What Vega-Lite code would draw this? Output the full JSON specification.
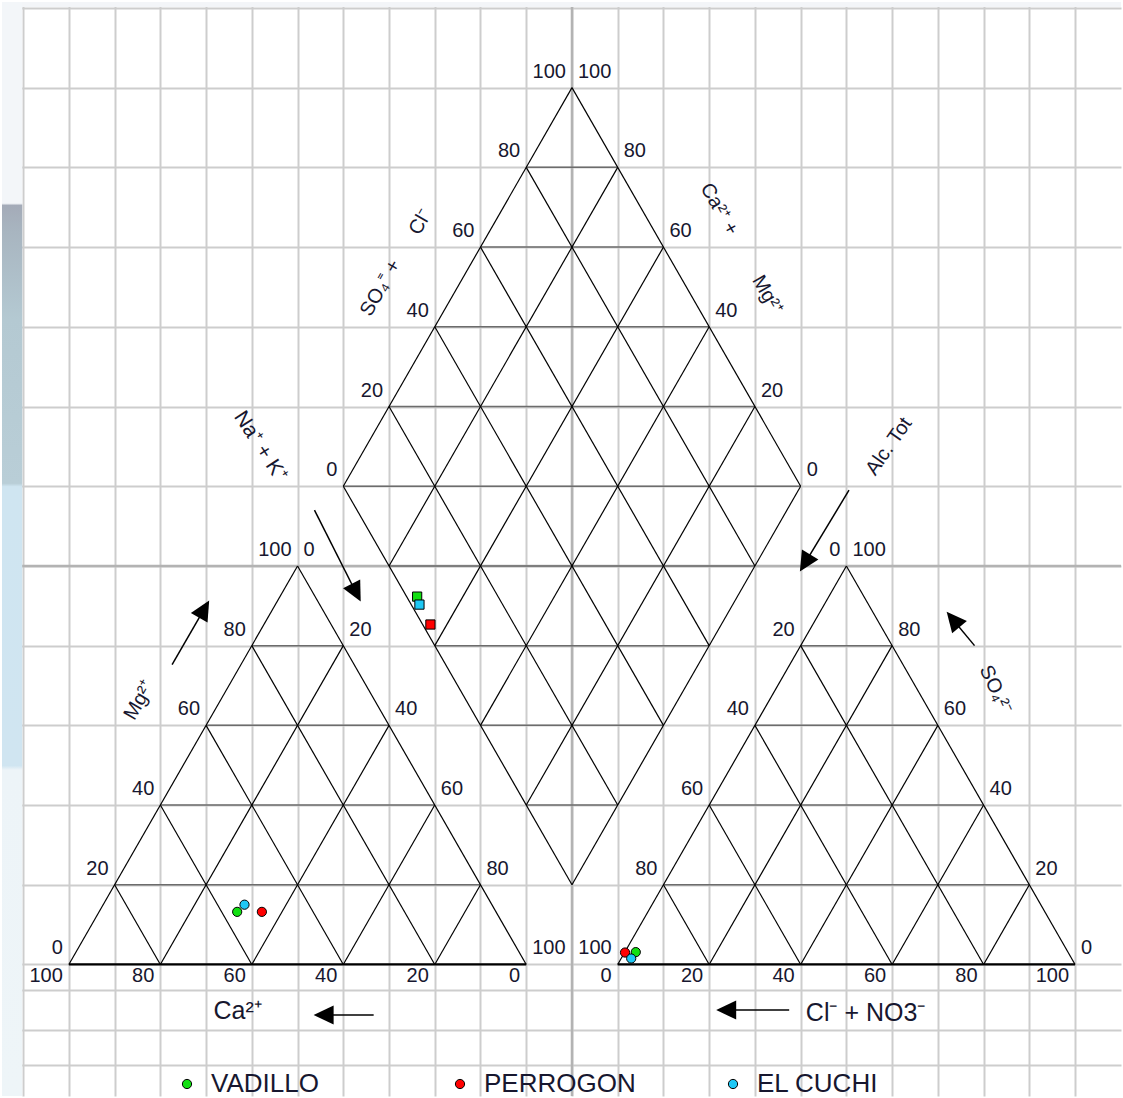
{
  "$schema": "https://vega.github.io/schema/vega-lite/v6.json",
  "width": 1123,
  "height": 1098,
  "autosize": {"type": "fit", "contains": "padding"},
  "padding": 0,
  "background": "#ffffff",
  "config": {
    "view": {"stroke": null},
    "text": {"font": "Liberation Sans", "color": "#17172f"}
  },
  "resolve": {"axis": {"x": "independent", "y": "independent"}},
  "datasets": {
    "samples": [
      {"sample": "VADILLO", "diagram": "cations", "Ca": 56.6, "Mg": 13.2, "NaK": 30.2},
      {"sample": "PERROGON", "diagram": "cations", "Ca": 51.2, "Mg": 13.2, "NaK": 35.6},
      {"sample": "EL CUCHI", "diagram": "cations", "Ca": 54.1, "Mg": 15.0, "NaK": 30.9},
      {"sample": "VADILLO", "diagram": "anions", "HCO3": 94.5, "SO4": 3.1, "Cl": 2.4},
      {"sample": "PERROGON", "diagram": "anions", "HCO3": 96.9, "SO4": 3.0, "Cl": 0.1},
      {"sample": "EL CUCHI", "diagram": "anions", "HCO3": 96.3, "SO4": 1.5, "Cl": 2.2},
      {"sample": "VADILLO", "diagram": "diamond", "NaK": 30.0, "SO4Cl": 2.3},
      {"sample": "PERROGON", "diagram": "diamond", "NaK": 36.4, "SO4Cl": 1.7},
      {"sample": "EL CUCHI", "diagram": "diamond", "NaK": 31.5, "SO4Cl": 1.8}
    ],
    "lattice": [
      {"net": "cat", "fam": "h", "v": 0}, {"net": "cat", "fam": "h", "v": 20}, {"net": "cat", "fam": "h", "v": 40}, {"net": "cat", "fam": "h", "v": 60}, {"net": "cat", "fam": "h", "v": 80},
      {"net": "cat", "fam": "l", "v": 0}, {"net": "cat", "fam": "l", "v": 20}, {"net": "cat", "fam": "l", "v": 40}, {"net": "cat", "fam": "l", "v": 60}, {"net": "cat", "fam": "l", "v": 80},
      {"net": "cat", "fam": "r", "v": 0}, {"net": "cat", "fam": "r", "v": 20}, {"net": "cat", "fam": "r", "v": 40}, {"net": "cat", "fam": "r", "v": 60}, {"net": "cat", "fam": "r", "v": 80},
      {"net": "an", "fam": "h", "v": 0}, {"net": "an", "fam": "h", "v": 20}, {"net": "an", "fam": "h", "v": 40}, {"net": "an", "fam": "h", "v": 60}, {"net": "an", "fam": "h", "v": 80},
      {"net": "an", "fam": "l", "v": 0}, {"net": "an", "fam": "l", "v": 20}, {"net": "an", "fam": "l", "v": 40}, {"net": "an", "fam": "l", "v": 60}, {"net": "an", "fam": "l", "v": 80},
      {"net": "an", "fam": "r", "v": 0}, {"net": "an", "fam": "r", "v": 20}, {"net": "an", "fam": "r", "v": 40}, {"net": "an", "fam": "r", "v": 60}, {"net": "an", "fam": "r", "v": 80},
      {"net": "dia", "fam": "n", "v": 0}, {"net": "dia", "fam": "n", "v": 20}, {"net": "dia", "fam": "n", "v": 40}, {"net": "dia", "fam": "n", "v": 60}, {"net": "dia", "fam": "n", "v": 80}, {"net": "dia", "fam": "n", "v": 100},
      {"net": "dia", "fam": "s", "v": 0}, {"net": "dia", "fam": "s", "v": 20}, {"net": "dia", "fam": "s", "v": 40}, {"net": "dia", "fam": "s", "v": 60}, {"net": "dia", "fam": "s", "v": 80}, {"net": "dia", "fam": "s", "v": 100},
      {"net": "dia", "fam": "d", "v": -80}, {"net": "dia", "fam": "d", "v": -60}, {"net": "dia", "fam": "d", "v": -40}, {"net": "dia", "fam": "d", "v": -20}, {"net": "dia", "fam": "d", "v": 0},
      {"net": "dia", "fam": "d", "v": 20}, {"net": "dia", "fam": "d", "v": 40}, {"net": "dia", "fam": "d", "v": 60}, {"net": "dia", "fam": "d", "v": 80}
    ],
    "ticks": [
      {"edge": "cMg", "v": 0}, {"edge": "cMg", "v": 20}, {"edge": "cMg", "v": 40}, {"edge": "cMg", "v": 60}, {"edge": "cMg", "v": 80}, {"edge": "cMg", "v": 100},
      {"edge": "cNaK", "v": 0}, {"edge": "cNaK", "v": 20}, {"edge": "cNaK", "v": 40}, {"edge": "cNaK", "v": 60}, {"edge": "cNaK", "v": 80}, {"edge": "cNaK", "v": 100},
      {"edge": "cCa", "v": 0}, {"edge": "cCa", "v": 20}, {"edge": "cCa", "v": 40}, {"edge": "cCa", "v": 60}, {"edge": "cCa", "v": 80}, {"edge": "cCa", "v": 100},
      {"edge": "aHCO3", "v": 0}, {"edge": "aHCO3", "v": 20}, {"edge": "aHCO3", "v": 40}, {"edge": "aHCO3", "v": 60}, {"edge": "aHCO3", "v": 80}, {"edge": "aHCO3", "v": 100},
      {"edge": "aSO4", "v": 0}, {"edge": "aSO4", "v": 20}, {"edge": "aSO4", "v": 40}, {"edge": "aSO4", "v": 60}, {"edge": "aSO4", "v": 80}, {"edge": "aSO4", "v": 100},
      {"edge": "aCl", "v": 0}, {"edge": "aCl", "v": 20}, {"edge": "aCl", "v": 40}, {"edge": "aCl", "v": 60}, {"edge": "aCl", "v": 80}, {"edge": "aCl", "v": 100},
      {"edge": "dSO4Cl", "v": 0}, {"edge": "dSO4Cl", "v": 20}, {"edge": "dSO4Cl", "v": 40}, {"edge": "dSO4Cl", "v": 60}, {"edge": "dSO4Cl", "v": 80}, {"edge": "dSO4Cl", "v": 100},
      {"edge": "dCaMg", "v": 0}, {"edge": "dCaMg", "v": 20}, {"edge": "dCaMg", "v": 40}, {"edge": "dCaMg", "v": 60}, {"edge": "dCaMg", "v": 80}, {"edge": "dCaMg", "v": 100}
    ]
  },
  "layer": [
    {
      "data": {"values": [{}]},
      "mark": {"type": "rule", "color": "#b3b3b3", "strokeWidth": 2.5},
      "encoding": {
        "x": {"datum": 110, "type": "quantitative", "scale": {"domain": [-14.62, 230.04], "nice": false, "zero": false},
          "axis": {"values": [-10, 0, 10, 20, 30, 40, 50, 60, 70, 80, 90, 100, 110, 120, 130, 140, 150, 160, 170, 180, 190, 200, 210, 220],
            "grid": true, "gridColor": "#cdcdcd", "gridWidth": 2, "labels": false, "ticks": false, "domain": false, "title": null}}
      }
    },
    {
      "data": {"values": [{}]},
      "mark": {"type": "rule", "color": "#b3b3b3", "strokeWidth": 2.5},
      "encoding": {
        "y": {"datum": 86.6025, "type": "quantitative", "scale": {"domain": [-28.58, 209.14], "nice": false, "zero": false},
          "axis": {"values": [-21.8, -14.22, -5.56, 0, 17.3205, 34.641, 51.9615, 69.282, 86.6025, 103.923, 121.2435, 138.564, 155.8845, 173.205, 190.5255, 207.846],
            "grid": true, "gridColor": "#cdcdcd", "gridWidth": 2, "labels": false, "ticks": false, "domain": false, "title": null}}
      }
    },
    {
      "data": {"values": [{}]},
      "mark": {"type": "rect", "fill": "#f3f5f8"},
      "encoding": {
        "x": {"datum": -14.62, "type": "quantitative", "scale": {"domain": [-14.62, 230.04], "nice": false, "zero": false}, "axis": null},
        "x2": {"datum": 230.04},
        "y": {"datum": 208.07, "type": "quantitative", "scale": {"domain": [-28.58, 209.14], "nice": false, "zero": false}, "axis": null},
        "y2": {"datum": 209.14}
      }
    },
    {
      "data": {"values": [{}]},
      "mark": {"type": "rect", "fill": {"gradient": "linear", "x1": 0, "y1": 0, "x2": 0, "y2": 1, "stops": [
        {"offset": 0, "color": "#f3f6f9"}, {"offset": 0.184, "color": "#f3f6f9"}, {"offset": 0.186, "color": "#a4abb8"},
        {"offset": 0.21, "color": "#a8b5c0"}, {"offset": 0.29, "color": "#b4c9d2"}, {"offset": 0.44, "color": "#b9ced7"},
        {"offset": 0.443, "color": "#cfe5f1"}, {"offset": 0.698, "color": "#d0e5f1"}, {"offset": 0.702, "color": "#edf4f8"},
        {"offset": 1, "color": "#eef5f8"}]}},
      "encoding": {
        "x": {"datum": -14.62, "type": "quantitative", "scale": {"domain": [-14.62, 230.04], "nice": false, "zero": false}, "axis": null},
        "x2": {"datum": -10.2},
        "y": {"datum": -28.58, "type": "quantitative", "scale": {"domain": [-28.58, 209.14], "nice": false, "zero": false}, "axis": null},
        "y2": {"datum": 209.14}
      }
    },
    {
      "data": {"name": "lattice"},
      "transform": [
        {"calculate": "datum.net === 'an' ? 120 : 0", "as": "x0"},
        {"calculate": "datum.fam === 'h' ? datum.x0 + datum.v / 2 : datum.fam === 'l' ? datum.x0 + datum.v : datum.fam === 'r' ? datum.x0 + 100 - datum.v : datum.fam === 'd' ? 110 - (100 - abs(datum.v)) / 2 : 60 + datum.v / 2", "as": "ax"},
        {"calculate": "0.8660254 * (datum.fam === 'h' ? datum.v : (datum.fam === 'l' || datum.fam === 'r') ? 0 : datum.fam === 'n' ? 120 - datum.v : 120 + datum.v)", "as": "ay"},
        {"calculate": "datum.fam === 'h' ? datum.x0 + 100 - datum.v / 2 : datum.fam === 'l' ? datum.x0 + 50 + datum.v / 2 : datum.fam === 'r' ? datum.x0 + (100 - datum.v) / 2 : datum.fam === 'd' ? 110 + (100 - abs(datum.v)) / 2 : 110 + datum.v / 2", "as": "bx"},
        {"calculate": "0.8660254 * (datum.fam === 'h' ? datum.v : (datum.fam === 'l' || datum.fam === 'r') ? 100 - datum.v : datum.fam === 'n' ? 220 - datum.v : datum.fam === 's' ? 20 + datum.v : 120 + datum.v)", "as": "by"}
      ],
      "encoding": {
        "x": {"field": "ax", "type": "quantitative", "scale": {"domain": [-14.62, 230.04], "nice": false, "zero": false}, "axis": null},
        "y": {"field": "ay", "type": "quantitative", "scale": {"domain": [-28.58, 209.14], "nice": false, "zero": false}, "axis": null},
        "x2": {"field": "bx"},
        "y2": {"field": "by"}
      },
      "layer": [
        {"transform": [{"filter": "(datum.fam === 'h' && datum.v > 0) || datum.fam === 'd'"}], "mark": {"type": "rule", "color": "#6c6c6c", "strokeWidth": 1.5}},
        {"transform": [{"filter": "datum.fam !== 'h' && datum.fam !== 'd'"}], "mark": {"type": "rule", "color": "#000000", "strokeWidth": 1.2}},
        {"transform": [{"filter": "datum.fam === 'h' && datum.v === 0"}], "mark": {"type": "rule", "color": "#000000", "strokeWidth": 2.2}}
      ]
    },
    {
      "data": {"name": "ticks"},
      "transform": [
        {"calculate": "datum.edge === 'cMg' ? datum.v / 2 : datum.edge === 'cNaK' ? 50 + datum.v / 2 : datum.edge === 'cCa' ? 100 - datum.v : datum.edge === 'aHCO3' ? 170 - datum.v / 2 : datum.edge === 'aSO4' ? 220 - datum.v / 2 : datum.edge === 'aCl' ? 120 + datum.v : datum.edge === 'dSO4Cl' ? 60 + datum.v / 2 : 160 - datum.v / 2", "as": "lx"},
        {"calculate": "0.8660254 * ((datum.edge === 'cMg' || datum.edge === 'aSO4') ? datum.v : (datum.edge === 'cNaK' || datum.edge === 'aHCO3') ? 100 - datum.v : (datum.edge === 'cCa' || datum.edge === 'aCl') ? 0 : 120 + datum.v)", "as": "ly"}
      ],
      "encoding": {
        "x": {"field": "lx", "type": "quantitative", "scale": {"domain": [-14.62, 230.04], "nice": false, "zero": false}, "axis": null},
        "y": {"field": "ly", "type": "quantitative", "scale": {"domain": [-28.58, 209.14], "nice": false, "zero": false}, "axis": null},
        "text": {"field": "v", "type": "quantitative"}
      },
      "layer": [
        {"transform": [{"filter": "indexof(['cMg', 'aHCO3', 'dSO4Cl'], datum.edge) >= 0"}],
          "mark": {"type": "text", "align": "right", "baseline": "middle", "dx": -6, "dy": -16, "fontSize": 20}},
        {"transform": [{"filter": "indexof(['cNaK', 'aSO4', 'dCaMg'], datum.edge) >= 0"}],
          "mark": {"type": "text", "align": "left", "baseline": "middle", "dx": 6, "dy": -16, "fontSize": 20}},
        {"transform": [{"filter": "indexof(['cCa', 'aCl'], datum.edge) >= 0"}],
          "mark": {"type": "text", "align": "right", "baseline": "middle", "dx": -6, "dy": 12, "fontSize": 20}}
      ]
    },
    {
      "data": {"values": [{}]},
      "mark": {"type": "text", "text": "Ca²⁺", "fontSize": 25, "align": "center", "baseline": "middle"},
      "encoding": {
        "x": {"datum": 36.9, "type": "quantitative", "scale": {"domain": [-14.62, 230.04], "nice": false, "zero": false}, "axis": null},
        "y": {"datum": -10.18, "type": "quantitative", "scale": {"domain": [-28.58, 209.14], "nice": false, "zero": false}, "axis": null}
      }
    },
    {
      "data": {"values": [{}]},
      "mark": {"type": "text", "text": "Cl⁻ + NO3⁻", "fontSize": 25, "align": "center", "baseline": "middle"},
      "encoding": {
        "x": {"datum": 174.2, "type": "quantitative", "scale": {"domain": [-14.62, 230.04], "nice": false, "zero": false}, "axis": null},
        "y": {"datum": -10.6, "type": "quantitative", "scale": {"domain": [-28.58, 209.14], "nice": false, "zero": false}, "axis": null}
      }
    },
    {
      "data": {"values": [{}]},
      "mark": {"type": "text", "text": "SO₄⁼ +", "fontSize": 20, "angle": -60, "align": "center", "baseline": "middle"},
      "encoding": {
        "x": {"datum": 68.17, "type": "quantitative", "scale": {"domain": [-14.62, 230.04], "nice": false, "zero": false}, "axis": null},
        "y": {"datum": 147.0, "type": "quantitative", "scale": {"domain": [-28.58, 209.14], "nice": false, "zero": false}, "axis": null}
      }
    },
    {
      "data": {"values": [{}]},
      "mark": {"type": "text", "text": "Cl⁻", "fontSize": 20, "angle": -60, "align": "center", "baseline": "middle"},
      "encoding": {
        "x": {"datum": 76.88, "type": "quantitative", "scale": {"domain": [-14.62, 230.04], "nice": false, "zero": false}, "axis": null},
        "y": {"datum": 161.3, "type": "quantitative", "scale": {"domain": [-28.58, 209.14], "nice": false, "zero": false}, "axis": null}
      }
    },
    {
      "data": {"values": [{}]},
      "mark": {"type": "text", "text": "Ca²⁺ +", "fontSize": 20, "angle": 60, "align": "center", "baseline": "middle"},
      "encoding": {
        "x": {"datum": 142.2, "type": "quantitative", "scale": {"domain": [-14.62, 230.04], "nice": false, "zero": false}, "axis": null},
        "y": {"datum": 164.1, "type": "quantitative", "scale": {"domain": [-28.58, 209.14], "nice": false, "zero": false}, "axis": null}
      }
    },
    {
      "data": {"values": [{}]},
      "mark": {"type": "text", "text": "Mg²⁺", "fontSize": 20, "angle": 60, "align": "center", "baseline": "middle"},
      "encoding": {
        "x": {"datum": 152.7, "type": "quantitative", "scale": {"domain": [-14.62, 230.04], "nice": false, "zero": false}, "axis": null},
        "y": {"datum": 145.5, "type": "quantitative", "scale": {"domain": [-28.58, 209.14], "nice": false, "zero": false}, "axis": null}
      }
    },
    {
      "data": {"values": [{}]},
      "mark": {"type": "text", "text": "Na⁺ + K⁺", "fontSize": 21, "angle": 57, "align": "center", "baseline": "middle"},
      "encoding": {
        "x": {"datum": 41.81, "type": "quantitative", "scale": {"domain": [-14.62, 230.04], "nice": false, "zero": false}, "axis": null},
        "y": {"datum": 112.58, "type": "quantitative", "scale": {"domain": [-28.58, 209.14], "nice": false, "zero": false}, "axis": null}
      }
    },
    {
      "data": {"values": [{}]},
      "mark": {"type": "text", "text": "Mg²⁺", "fontSize": 20, "angle": -60, "align": "center", "baseline": "middle"},
      "encoding": {
        "x": {"datum": 15.4, "type": "quantitative", "scale": {"domain": [-14.62, 230.04], "nice": false, "zero": false}, "axis": null},
        "y": {"datum": 57.4, "type": "quantitative", "scale": {"domain": [-28.58, 209.14], "nice": false, "zero": false}, "axis": null}
      }
    },
    {
      "data": {"values": [{}]},
      "mark": {"type": "text", "text": "Alc. Tot", "fontSize": 20, "angle": -55, "align": "center", "baseline": "middle"},
      "encoding": {
        "x": {"datum": 179.3, "type": "quantitative", "scale": {"domain": [-14.62, 230.04], "nice": false, "zero": false}, "axis": null},
        "y": {"datum": 112.58, "type": "quantitative", "scale": {"domain": [-28.58, 209.14], "nice": false, "zero": false}, "axis": null}
      }
    },
    {
      "data": {"values": [{}]},
      "mark": {"type": "text", "text": "SO₄²⁻", "fontSize": 20, "angle": 65, "align": "center", "baseline": "middle"},
      "encoding": {
        "x": {"datum": 202.6, "type": "quantitative", "scale": {"domain": [-14.62, 230.04], "nice": false, "zero": false}, "axis": null},
        "y": {"datum": 59.75, "type": "quantitative", "scale": {"domain": [-28.58, 209.14], "nice": false, "zero": false}, "axis": null}
      }
    },
    {
      "data": {"values": [{}]},
      "mark": {"type": "rule", "color": "#000000", "strokeWidth": 1.5},
      "encoding": {
        "x": {"datum": 66.64, "type": "quantitative", "scale": {"domain": [-14.62, 230.04], "nice": false, "zero": false}, "axis": null},
        "y": {"datum": -10.98, "type": "quantitative", "scale": {"domain": [-28.58, 209.14], "nice": false, "zero": false}, "axis": null},
        "x2": {"datum": 55.0}, "y2": {"datum": -10.98}
      }
    },
    {
      "data": {"values": [{}]},
      "mark": {"type": "point", "shape": "M0,0L0.48,1L-0.48,1Z", "size": 1600, "angle": -90, "filled": true, "color": "#000000", "opacity": 1},
      "encoding": {
        "x": {"datum": 53.51, "type": "quantitative", "scale": {"domain": [-14.62, 230.04], "nice": false, "zero": false}, "axis": null},
        "y": {"datum": -10.98, "type": "quantitative", "scale": {"domain": [-28.58, 209.14], "nice": false, "zero": false}, "axis": null}
      }
    },
    {
      "data": {"values": [{}]},
      "mark": {"type": "rule", "color": "#000000", "strokeWidth": 1.5},
      "encoding": {
        "x": {"datum": 157.49, "type": "quantitative", "scale": {"domain": [-14.62, 230.04], "nice": false, "zero": false}, "axis": null},
        "y": {"datum": -9.89, "type": "quantitative", "scale": {"domain": [-28.58, 209.14], "nice": false, "zero": false}, "axis": null},
        "x2": {"datum": 143.0}, "y2": {"datum": -9.89}
      }
    },
    {
      "data": {"values": [{}]},
      "mark": {"type": "point", "shape": "M0,0L0.48,1L-0.48,1Z", "size": 1600, "angle": -90, "filled": true, "color": "#000000", "opacity": 1},
      "encoding": {
        "x": {"datum": 141.53, "type": "quantitative", "scale": {"domain": [-14.62, 230.04], "nice": false, "zero": false}, "axis": null},
        "y": {"datum": -9.89, "type": "quantitative", "scale": {"domain": [-28.58, 209.14], "nice": false, "zero": false}, "axis": null}
      }
    },
    {
      "data": {"values": [{}]},
      "mark": {"type": "rule", "color": "#000000", "strokeWidth": 1.5},
      "encoding": {
        "x": {"datum": 22.57, "type": "quantitative", "scale": {"domain": [-14.62, 230.04], "nice": false, "zero": false}, "axis": null},
        "y": {"datum": 65.17, "type": "quantitative", "scale": {"domain": [-28.58, 209.14], "nice": false, "zero": false}, "axis": null},
        "x2": {"datum": 29.8}, "y2": {"datum": 77.6}
      }
    },
    {
      "data": {"values": [{}]},
      "mark": {"type": "point", "shape": "M0,0L0.48,1L-0.48,1Z", "size": 1600, "angle": 30, "filled": true, "color": "#000000", "opacity": 1},
      "encoding": {
        "x": {"datum": 30.68, "type": "quantitative", "scale": {"domain": [-14.62, 230.04], "nice": false, "zero": false}, "axis": null},
        "y": {"datum": 79.09, "type": "quantitative", "scale": {"domain": [-28.58, 209.14], "nice": false, "zero": false}, "axis": null}
      }
    },
    {
      "data": {"values": [{}]},
      "mark": {"type": "rule", "color": "#000000", "strokeWidth": 1.5},
      "encoding": {
        "x": {"datum": 53.7, "type": "quantitative", "scale": {"domain": [-14.62, 230.04], "nice": false, "zero": false}, "axis": null},
        "y": {"datum": 98.72, "type": "quantitative", "scale": {"domain": [-28.58, 209.14], "nice": false, "zero": false}, "axis": null},
        "x2": {"datum": 63.0}, "y2": {"datum": 80.4}
      }
    },
    {
      "data": {"values": [{}]},
      "mark": {"type": "point", "shape": "M0,0L0.48,1L-0.48,1Z", "size": 1600, "angle": 153, "filled": true, "color": "#000000", "opacity": 1},
      "encoding": {
        "x": {"datum": 63.81, "type": "quantitative", "scale": {"domain": [-14.62, 230.04], "nice": false, "zero": false}, "axis": null},
        "y": {"datum": 78.85, "type": "quantitative", "scale": {"domain": [-28.58, 209.14], "nice": false, "zero": false}, "axis": null}
      }
    },
    {
      "data": {"values": [{}]},
      "mark": {"type": "rule", "color": "#000000", "strokeWidth": 1.5},
      "encoding": {
        "x": {"datum": 170.57, "type": "quantitative", "scale": {"domain": [-14.62, 230.04], "nice": false, "zero": false}, "axis": null},
        "y": {"datum": 103.05, "type": "quantitative", "scale": {"domain": [-28.58, 209.14], "nice": false, "zero": false}, "axis": null},
        "x2": {"datum": 160.8}, "y2": {"datum": 87.0}
      }
    },
    {
      "data": {"values": [{}]},
      "mark": {"type": "point", "shape": "M0,0L0.48,1L-0.48,1Z", "size": 1600, "angle": -149, "filled": true, "color": "#000000", "opacity": 1},
      "encoding": {
        "x": {"datum": 159.83, "type": "quantitative", "scale": {"domain": [-14.62, 230.04], "nice": false, "zero": false}, "axis": null},
        "y": {"datum": 85.37, "type": "quantitative", "scale": {"domain": [-28.58, 209.14], "nice": false, "zero": false}, "axis": null}
      }
    },
    {
      "data": {"values": [{}]},
      "mark": {"type": "rule", "color": "#000000", "strokeWidth": 1.5},
      "encoding": {
        "x": {"datum": 198.02, "type": "quantitative", "scale": {"domain": [-14.62, 230.04], "nice": false, "zero": false}, "axis": null},
        "y": {"datum": 69.28, "type": "quantitative", "scale": {"domain": [-28.58, 209.14], "nice": false, "zero": false}, "axis": null},
        "x2": {"datum": 193.0}, "y2": {"datum": 75.3}
      }
    },
    {
      "data": {"values": [{}]},
      "mark": {"type": "point", "shape": "M0,0L0.48,1L-0.48,1Z", "size": 1600, "angle": -40, "filled": true, "color": "#000000", "opacity": 1},
      "encoding": {
        "x": {"datum": 191.92, "type": "quantitative", "scale": {"domain": [-14.62, 230.04], "nice": false, "zero": false}, "axis": null},
        "y": {"datum": 76.64, "type": "quantitative", "scale": {"domain": [-28.58, 209.14], "nice": false, "zero": false}, "axis": null}
      }
    },
    {
      "data": {"name": "samples"},
      "transform": [
        {"calculate": "datum.diagram === 'cations' ? datum.NaK + datum.Mg / 2 : datum.diagram === 'anions' ? 120 + datum.Cl + datum.SO4 / 2 : 60 + (datum.NaK + datum.SO4Cl) / 2", "as": "px"},
        {"calculate": "0.8660254 * (datum.diagram === 'cations' ? datum.Mg : datum.diagram === 'anions' ? datum.SO4 : 120 + datum.SO4Cl - datum.NaK)", "as": "py"}
      ],
      "encoding": {
        "x": {"field": "px", "type": "quantitative", "scale": {"domain": [-14.62, 230.04], "nice": false, "zero": false}, "axis": null},
        "y": {"field": "py", "type": "quantitative", "scale": {"domain": [-28.58, 209.14], "nice": false, "zero": false}, "axis": null},
        "color": {"field": "sample", "type": "nominal",
          "scale": {"domain": ["VADILLO", "PERROGON", "EL CUCHI"], "range": ["#12e012", "#ff0000", "#1ec8f5"]},
          "legend": {"title": null, "orient": "none", "legendX": 172, "legendY": 1069, "direction": "horizontal", "columns": 3,
            "gridAlign": "all", "columnPadding": 84, "symbolType": "circle", "symbolSize": 85, "symbolStrokeColor": "#000000",
            "symbolStrokeWidth": 1, "symbolOpacity": 1, "labelFont": "Liberation Sans", "labelFontSize": 26, "labelColor": "#17172f",
            "labelOffset": 11, "labelLimit": 0, "padding": 0, "offset": 0}}
      },
      "layer": [
        {"transform": [{"filter": "datum.diagram !== 'diamond'"}],
          "mark": {"type": "point", "shape": "circle", "filled": true, "size": 85, "stroke": "#000000", "strokeWidth": 1, "opacity": 1}},
        {"transform": [{"filter": "datum.diagram === 'diamond'"}],
          "mark": {"type": "point", "shape": "square", "filled": true, "size": 85, "stroke": "#000000", "strokeWidth": 1, "opacity": 1}}
      ]
    }
  ]
}
